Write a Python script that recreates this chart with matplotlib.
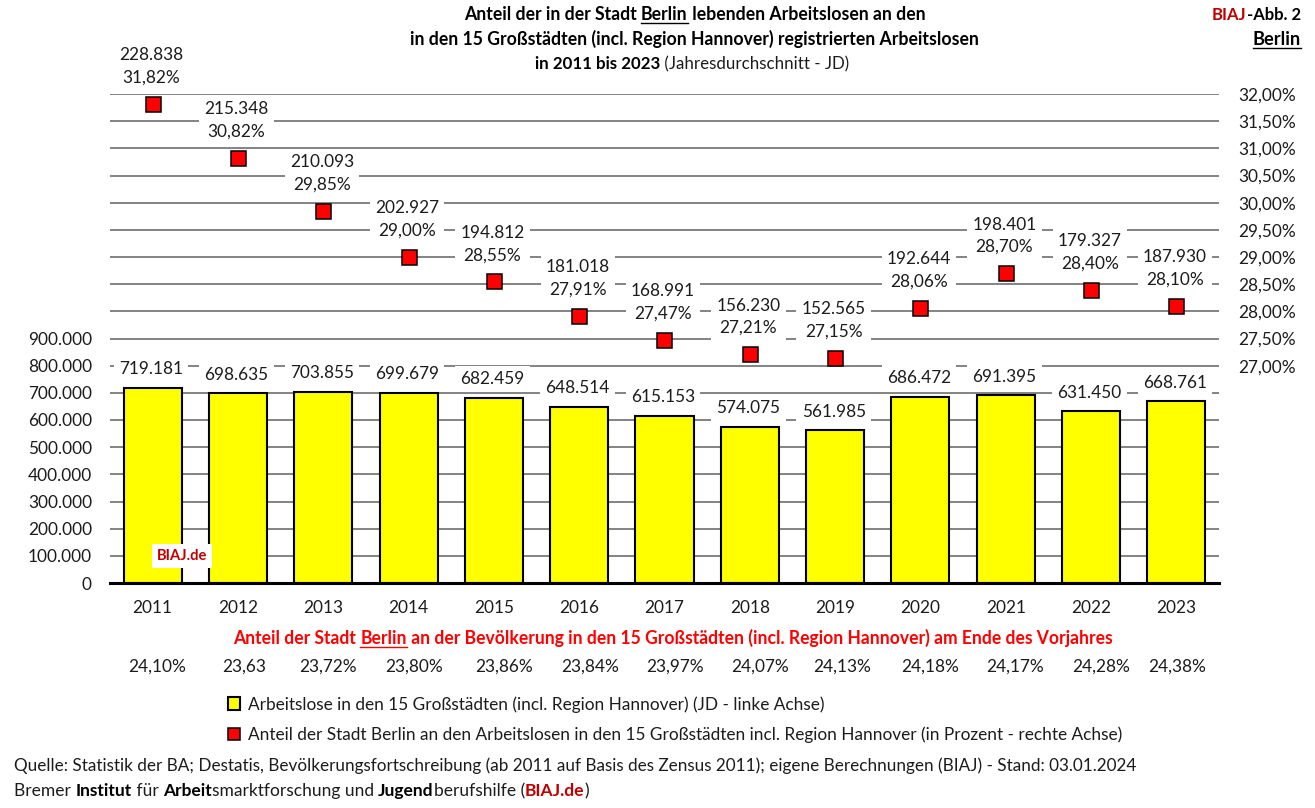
import matplotlib
matplotlib.use("Agg")
import matplotlib.pyplot as plt
from matplotlib.lines import Line2D
from matplotlib.transforms import Affine2D
import numpy as np

W, H = 1315, 808
years = [2011, 2012, 2013, 2014, 2015, 2016, 2017, 2018, 2019, 2020, 2021, 2022, 2023]
unemployed_total = [719181, 698635, 703855, 699679, 682459, 648514, 615153, 574075, 561985, 686472, 691395, 631450, 668761]
unemployed_berlin = [228838, 215348, 210093, 202927, 194812, 181018, 168991, 156230, 152565, 192644, 198401, 179327, 187930]
share_unemployed = [31.82, 30.82, 29.85, 29.00, 28.55, 27.91, 27.47, 27.21, 27.15, 28.06, 28.70, 28.40, 28.10]
share_population = ["24,10%", "23,63", "23,72%", "23,80%", "23,86%", "23,84%", "23,97%", "24,07%", "24,13%", "24,18%", "24,17%", "24,28%", "24,38%"]
population_x = [157, 244, 328, 414, 504, 590, 675, 760, 842, 930, 1015, 1101, 1177]

INK = "#1c1c1c"
DARKRED = "#C00000"
plt.rcParams["font.family"] = ["Lato", "DejaVu Sans"]
NUM = 12.4

de_int = lambda v: f"{v:,}".replace(",", ".")
de_pct = lambda v: f"{v:.2f}%".replace(".", ",")

fig = plt.figure(figsize=(W / 100, H / 100), dpi=100, facecolor="white")
PX = Affine2D().scale(1, -1).translate(0, H)
rend = fig.canvas.get_renderer()

L, R, T, B = 110, 1219, 94, 583
ax = fig.add_axes([L / W, (H - B) / H, (R - L) / W, (B - T) / H])
x = np.arange(len(years))
bars = ax.bar(x, unemployed_total, width=0.68, color="#FFFF00", edgecolor="black", linewidth=1.5,
              label="Arbeitslose in den 15 Großstädten (incl. Region Hannover) (JD - linke Achse)", zorder=2)
ax.set_xlim(-0.5, len(years) - 0.5)
ax.set_ylim(0, 1800000)
ticks = np.arange(0, 1800001, 100000)
ax.set_yticks(ticks)
ax.set_yticklabels([de_int(int(t)) if t <= 900000 else "" for t in ticks], fontsize=NUM, color=INK)
ax.set_xticks(x)
ax.set_xticklabels(years, fontsize=NUM, color=INK)
ax.tick_params(axis="y", length=0, pad=13)
ax.tick_params(axis="x", length=0, pad=12.5)
ax.grid(axis="y", color="#7a7a7a", linewidth=1.3, zorder=1)
ax.set_axisbelow(True)
for s in ["top", "left", "right"]:
    ax.spines[s].set_visible(False)
ax.spines["bottom"].set_linewidth(2.2)
ax.spines["bottom"].set_color("black")
ax.spines["bottom"].set_zorder(5)

for i, v in enumerate(unemployed_total):
    ax.annotate(de_int(v), (i, v), xytext=(-1, 13.4), textcoords="offset points", ha="center", va="center",
                fontsize=NUM, color=INK, zorder=3,
                bbox=dict(boxstyle="square,pad=0.3", facecolor="white", edgecolor="none"))

ax2 = ax.twinx()
ax2.patch.set_visible(False)
ax2.set_ylim(23, 32)
ax2.set_yticks(np.arange(27, 32.01, 0.5))
ax2.set_yticklabels([de_pct(t) for t in np.arange(27, 32.01, 0.5)], fontsize=NUM, color=INK)
ax2.tick_params(axis="y", length=0, pad=14)
for s in ax2.spines.values():
    s.set_visible(False)
for i, (n, p) in enumerate(zip(unemployed_berlin, share_unemployed)):
    ax2.annotate(f"{de_int(n)}\n{de_pct(p)}", (i, p), xytext=(-1, 27.0), textcoords="offset points",
                 ha="center", va="center", multialignment="center", fontsize=NUM, color=INK, linespacing=1.5,
                 zorder=3, bbox=dict(boxstyle="square,pad=0.3", facecolor="white", edgecolor="none"))
marks, = ax2.plot(x, share_unemployed, linestyle="none", marker="s", markersize=10.8, markerfacecolor="#FF0000",
                  markeredgecolor="black", markeredgewidth=1.1, zorder=4,
                  label="Anteil der Stadt Berlin an den Arbeitslosen in den 15 Großstädten incl. Region Hannover (in Prozent - rechte Achse)")


def rich(runs, baseline, left=None, right=None, underline_gap=2.5):
    """Lay out (text, weight, color, underline) runs on one line between left and right px."""
    probe = fig.text(0, 0, ".", fontsize=20, transform=PX)

    def width(s, weight, size):
        probe.set_fontsize(size)
        probe.set_fontweight(weight)
        probe.set_text(".")
        w0 = probe.get_window_extent(rend).width
        probe.set_text("." + s + ".")
        return probe.get_window_extent(rend).width - 2 * w0 + 0

    total = sum(width(r[0], r[1], 20) for r in runs)
    size = 20 * (right - left) / total
    cur = left
    for s, weight, color, ul in runs:
        w = width(s, weight, size)
        fig.text(cur, baseline, s, fontsize=size, fontweight=weight, color=color, ha="left", va="baseline", transform=PX)
        if ul:
            fig.add_artist(Line2D([cur, cur + w], [baseline + underline_gap] * 2, color=color, linewidth=1.0, transform=PX))
        cur += w
    probe.remove()


b, r = "bold", "normal"
rich([("Anteil der in der Stadt ", b, "black", 0), ("Berlin", b, "black", 1), (" lebenden Arbeitslosen an den", b, "black", 0)], 20, 464, 923)
rich([("in den 15 Großstädten (incl. Region Hannover) registrierten Arbeitslosen", b, "black", 0)], 45, 410, 977)
rich([("in 2011 bis 2023", b, "black", 0), (" (Jahresdurchschnitt - JD)", r, INK, 0)], 69, 535, 851)
rich([("BIAJ", b, DARKRED, 0), ("-Abb. 2", b, "black", 0)], 20, 1212, 1301)
rich([("Berlin", b, "black", 1)], 45, 1253, 1301)
rich([("Anteil der Stadt ", b, "#FF0000", 0), ("Berlin", b, "#FF0000", 1),
      (" an der Bevölkerung in den 15 Großstädten (incl. Region Hannover) am Ende des Vorjahres", b, "#FF0000", 0)], 644, 233, 1111)
rich([("Quelle: Statistik der BA; Destatis, Bevölkerungsfortschreibung (ab 2011 auf Basis des Zensus 2011); eigene Berechnungen (BIAJ) - Stand: 03.01.2024", r, INK, 0)], 771, 14, 1139)
rich([("Bremer ", r, INK, 0), ("Institut", b, "black", 0), (" für ", r, INK, 0), ("Arbeit", b, "black", 0),
      ("smarktforschung und ", r, INK, 0), ("Jugend", b, "black", 0), ("berufshilfe (", r, INK, 0),
      ("BIAJ.de", b, DARKRED, 0), (")", r, INK, 0)], 796, 14, 590)

for px, s in zip(population_x, share_population):
    fig.text(px, 667, s, fontsize=NUM, color=INK, ha="center", va="center", transform=PX)

fig.text(182, 556, "BIAJ.de", fontsize=10.6, fontweight="bold", color=DARKRED, ha="center", va="center", transform=PX,
         bbox=dict(boxstyle="square,pad=0.35", facecolor="white", edgecolor="none"), zorder=6)

fig.legend(handles=[bars, marks], loc="upper left", bbox_to_anchor=(228 / W, 1 - 696 / H), frameon=False,
           fontsize=12.43, labelcolor=INK, handlelength=0.7, handleheight=0.7, handletextpad=0.47,
           labelspacing=0.82, borderpad=0, borderaxespad=0, numpoints=1, markerscale=0.75)

fig.savefig("out.png", dpi=100, facecolor="white")
